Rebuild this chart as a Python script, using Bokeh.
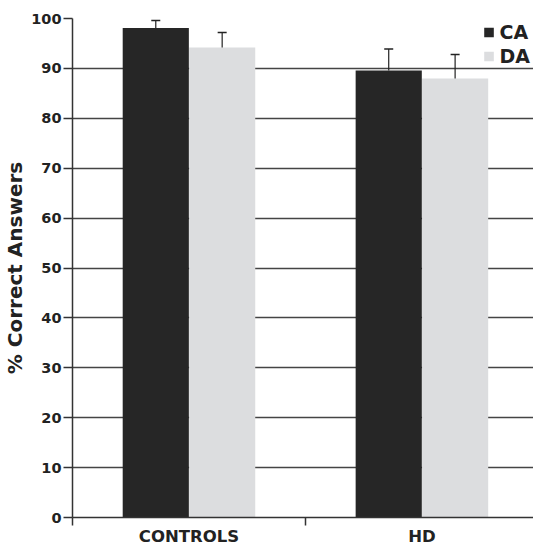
from bokeh.plotting import figure
from bokeh.models import ColumnDataSource, Range1d, FixedTicker, Whisker, TeeHead, Legend, LegendItem
from bokeh.transform import dodge
from bokeh.embed import file_html
from bokeh.resources import INLINE

groups = ["CONTROLS", "HD"]
ca_values = [98.1, 89.6]
da_values = [94.2, 88.0]
ca_err = [1.5, 4.3]
da_err = [3.0, 4.8]
y_ticks = [0, 10, 20, 30, 40, 50, 60, 70, 80, 90, 100]

FONT = "DejaVu Sans"
CA_COLOR = "#262626"
DA_COLOR = "#dcdddf"

xc = [i + 0.5 for i in range(len(groups))]
src = ColumnDataSource(dict(
    x=xc,
    ca=ca_values, da=da_values,
    ca_up=[v + e for v, e in zip(ca_values, ca_err)],
    da_up=[v + e for v, e in zip(da_values, da_err)],
))

p = figure(width=533, height=548, output_backend="svg", toolbar_location=None,
           x_range=Range1d(0, 1.979), y_range=Range1d(0, 100),
           min_border_top=18, min_border_right=0, min_border_left=72, min_border_bottom=29)
p.outline_line_color = None
p.background_fill_color = "white"

off = 0.1425
bw = 0.284
r_ca = p.vbar(x=dodge("x", -off), top="ca", width=bw, source=src, fill_color=CA_COLOR, line_color=None)
r_da = p.vbar(x=dodge("x", off), top="da", width=bw, source=src, fill_color=DA_COLOR, line_color=None)

for col_base, col_up, o in (("ca", "ca_up", -off), ("da", "da_up", off)):
    w = Whisker(base=dodge("x", o), lower=col_base, upper=col_up, source=src,
                line_color="#222222", line_width=1.2,
                upper_head=TeeHead(size=9, line_color="#222222", line_width=1.5),
                lower_head=None, level="glyph")
    p.add_layout(w)

# axes
p.xaxis.ticker = FixedTicker(ticks=xc, minor_ticks=[0, 1, 2])
p.xaxis.major_label_overrides = {x: g for x, g in zip(xc, groups)}
p.xaxis.axis_label = None
p.xaxis.major_tick_out = 0
p.xaxis.major_tick_in = 0
p.xaxis.minor_tick_out = 8
p.xaxis.minor_tick_in = 0
p.xaxis.minor_tick_line_color = "#333333"
p.xaxis.minor_tick_line_width = 1.5
p.xaxis.major_label_standoff = 1
p.xaxis.major_label_text_font = FONT
p.xaxis.major_label_text_font_style = "bold"
p.xaxis.major_label_text_font_size = "16.5px"
p.xaxis.major_label_text_color = "#222222"
p.xaxis.axis_line_color = "#333333"
p.xaxis.axis_line_width = 1.5

p.yaxis.ticker = FixedTicker(ticks=y_ticks, minor_ticks=[])
p.yaxis.major_tick_out = 9
p.yaxis.major_tick_in = 0
p.yaxis.major_tick_line_color = "#333333"
p.yaxis.major_tick_line_width = 1.5
p.yaxis.major_label_standoff = 2
p.yaxis.major_label_text_font = FONT
p.yaxis.major_label_text_font_style = "bold"
p.yaxis.major_label_text_font_size = "14.5px"
p.yaxis.major_label_text_color = "#222222"
p.yaxis.axis_line_color = "#333333"
p.yaxis.axis_line_width = 1.5
p.yaxis.axis_label = "% Correct Answers"
p.yaxis.axis_label_text_font = FONT
p.yaxis.axis_label_text_font_style = "bold"
p.yaxis.axis_label_text_font_size = "20px"
p.yaxis.axis_label_text_color = "#222222"
p.yaxis.axis_label_standoff = 1

p.xgrid.grid_line_color = None
p.ygrid.ticker = FixedTicker(ticks=y_ticks)
p.ygrid.grid_line_color = "#444444"
p.ygrid.grid_line_width = 1.5
p.ygrid.level = "underlay"

legend = Legend(items=[LegendItem(label="CA", renderers=[r_ca]),
                       LegendItem(label="DA", renderers=[r_da])],
                location="top_right")
legend.label_text_font = FONT
legend.label_text_font_style = "bold"
legend.label_text_font_size = "19px"
legend.label_text_color = "#222222"
legend.glyph_width = 12
legend.glyph_height = 12
legend.label_standoff = 5
legend.spacing = 2
legend.padding = 1
legend.margin = 3
legend.border_line_color = None
legend.background_fill_alpha = 0
p.add_layout(legend)

open("out.html", "w").write(file_html(p, INLINE))
